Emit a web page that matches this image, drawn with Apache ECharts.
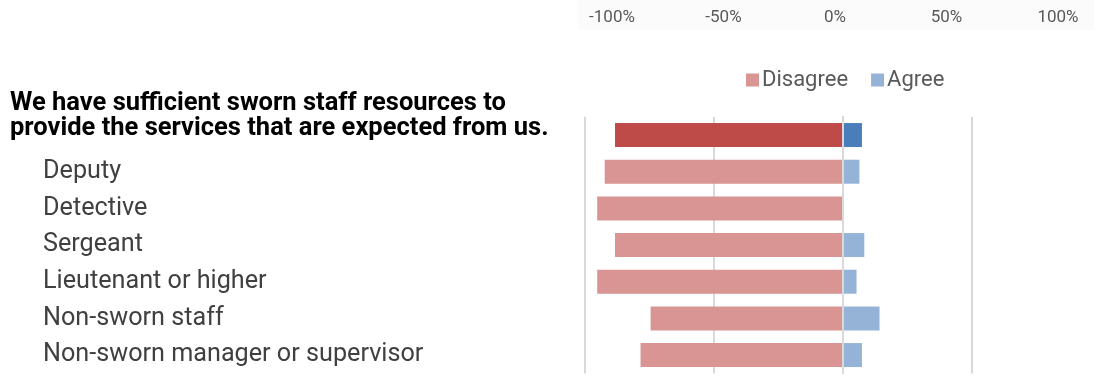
<!DOCTYPE html>
<html>
<head>
<meta charset="utf-8">
<script src="https://cdn.jsdelivr.net/npm/echarts@6/dist/echarts.min.js"></script>
<style>
  html, body { margin: 0; padding: 0; background: #ffffff; }
  #chart { width: 1094px; height: 379px; }
</style>
</head>
<body>
<div id="chart"></div>
<script>
// Survey statement with the response by rank below it
const categories = [
  'We have sufficient sworn staff resources to\nprovide the services that are expected from us.',
  'Deputy',
  'Detective',
  'Sergeant',
  'Lieutenant or higher',
  'Non-sworn staff',
  'Non-sworn manager or supervisor'
];
// Share of respondents (%); disagree plotted to the left of zero
const disagree = [-88.1, -92.1, -95.0, -88.1, -95.0, -74.3, -78.2];
const agree = [7.6, 6.6, 0, 8.5, 5.5, 14.4, 7.6];
const tickValues = [-100, -50, 0, 50, 100];

const colors = {
  disagree: '#d99594',
  disagreeTotal: '#be4b48',
  agree: '#95b3d7',
  agreeTotal: '#4a7ebb'
};

const chart = echarts.init(document.getElementById('chart'), null, { renderer: 'canvas' });

const toItems = (vals, base, total) => vals.map((v, i) => ({
  value: v,
  itemStyle: { color: i === 0 ? total : base }
}));

const option = {
  animation: false,
  backgroundColor: '#ffffff',
  graphic: [{
    type: 'rect', left: 578, top: 0, z: -10,
    shape: { width: 516, height: 30 },
    style: { fill: '#fbfbfb' }
  }],
  legend: {
    left: 741, top: 64,
    itemWidth: 13, itemHeight: 13, itemGap: 23,
    icon: 'rect',
    textStyle: { fontFamily: 'Roboto', fontSize: 22, color: '#595959', padding: [0, 0, 0, -2] },
    data: ['Disagree', 'Agree']
  },
  grid: [
    { left: 584.3, right: -6.4, top: 116.7, height: 256.7, outerBoundsMode: 'none', containLabel: false },
    { left: 612, right: 36, top: 30, height: 2, outerBoundsMode: 'none', containLabel: false }
  ],
  xAxis: [{
    gridIndex: 0, type: 'value', min: -100, max: 100, interval: 50,
    axisLine: { show: false }, axisTick: { show: false }, axisLabel: { show: false },
    splitLine: { show: true, lineStyle: { color: '#d9d9d9', width: 2 } }
  }, {
    gridIndex: 1, type: 'value', position: 'top', min: -100, max: 100, interval: 50,
    axisLine: { show: false }, axisTick: { show: false }, splitLine: { show: false },
    axisLabel: {
      margin: 4, fontFamily: 'Roboto', fontSize: 17, color: '#595959',
      customValues: tickValues,
      formatter: v => v + '%'
    }
  }],
  yAxis: [{
    gridIndex: 0, type: 'category', inverse: true, data: categories, z: 3,
    axisLine: { show: true, onZero: true, lineStyle: { color: '#d9d9d9', width: 2 } },
    axisTick: { show: false },
    axisLabel: {
      align: 'left', margin: 574.3, interval: 0,
      formatter: (v, i) => i === 0
        ? v.split('\n').map(l => '{t|' + l + '}').join('\n') + '\n{sp|}'
        : '{c|' + v + '}',
      rich: {
        t: { fontFamily: 'Roboto', fontWeight: 'bold', fontSize: 25.5, lineHeight: 25, color: '#000000' },
        sp: { height: 38, lineHeight: 38 },
        c: { fontFamily: 'Roboto', fontSize: 25.2, color: '#404040', padding: [0, 0, 0, 33] }
      }
    }
  }, {
    gridIndex: 1, type: 'category', show: false, data: ['']
  }],
  series: [{
    name: 'Disagree', type: 'bar', stack: 'resp', barWidth: 24,
    xAxisIndex: 0, yAxisIndex: 0,
    itemStyle: { color: colors.disagree },
    data: toItems(disagree, colors.disagree, colors.disagreeTotal)
  }, {
    name: 'Agree', type: 'bar', stack: 'resp', barWidth: 24,
    xAxisIndex: 0, yAxisIndex: 0,
    itemStyle: { color: colors.agree },
    data: toItems(agree, colors.agree, colors.agreeTotal)
  }]
};

chart.setOption(option);
</script>
</body>
</html>
